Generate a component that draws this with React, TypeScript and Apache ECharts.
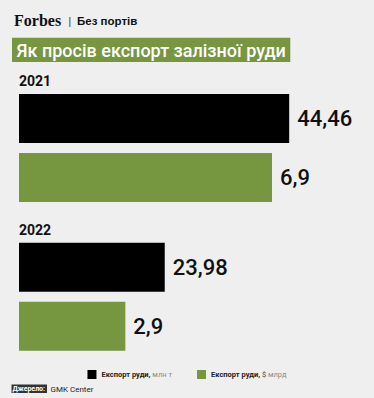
import React, { useEffect, useRef } from 'react';
import * as echarts from 'echarts';

const years = ['2021', '2022'];
const oreVolume = [44.46, 23.98]; // млн т
const oreValue = [6.9, 2.9]; // $ млрд
const seriesNames = ['Експорт руди, млн т', 'Експорт руди, $ млрд'];
const titleText = 'Як просів експорт залізної руди';
const brand = 'Forbes';
const section = 'Без портів';
const sourceLabel = 'Джерело:';
const sourceName = 'GMK Center';

const GREEN = '#76963f';
const BG = '#efefef';
const fmt = (v: number) => String(v).replace('.', ',');

export default function App() {
  const ref = useRef<HTMLDivElement>(null);
  useEffect(() => {
    const chart = echarts.init(ref.current!, null, { renderer: 'svg' });
    const valueLabel = {
      show: true,
      position: 'right',
      distance: 8,
      formatter: (p: any) => fmt(p.value),
      fontSize: 22,
      fontWeight: 500,
      color: '#111',
      fontFamily: 'Roboto',
    };
    chart.setOption({
      animation: false,
      backgroundColor: BG,
      grid: { left: 19, width: 330, top: 73.5, height: 297.8 },
      xAxis: [
        { type: 'value', min: 0, max: 54.3, show: false },
        { type: 'value', min: 0, max: 9, show: false },
      ],
      yAxis: {
        type: 'category',
        data: years,
        inverse: true,
        axisLine: { show: false },
        axisTick: { show: false },
        splitLine: { show: false },
        axisLabel: {
          inside: true,
          margin: 0,
          align: 'left',
          verticalAlign: 'bottom',
          padding: [0, 0, 60, 0],
          fontSize: 14,
          fontWeight: 'bold',
          color: '#111',
          fontFamily: 'Roboto',
        },
      },
      legend: {
        left: 'center',
        top: 365,
        itemWidth: 9,
        itemHeight: 9,
        itemGap: 25,
        icon: 'rect',
        data: seriesNames,
        formatter: (name: string) => {
          const i = name.indexOf(',');
          const unit = name.slice(i + 2);
          if (unit.startsWith('$')) {
            return '{b|' + name.slice(0, i + 1) + ' }{d|$ }{l|' + unit.slice(2) + '}';
          }
          return '{b|' + name.slice(0, i + 1) + ' }{l|' + unit + '}';
        },
        textStyle: {
          fontSize: 7.5,
          rich: {
            b: { fontSize: 7.5, fontWeight: 'bold', color: '#222', fontFamily: 'Roboto' },
            d: { fontSize: 7.5, color: '#444', fontFamily: 'Roboto' },
            l: { fontSize: 7.5, color: '#8a8a8a', fontFamily: 'Roboto' },
          },
        },
      },
      series: [
        {
          type: 'bar',
          name: seriesNames[0],
          xAxisIndex: 0,
          data: oreVolume,
          barWidth: 49,
          barGap: '20.4%',
          itemStyle: { color: '#000' },
          label: valueLabel,
        },
        {
          type: 'bar',
          name: seriesNames[1],
          xAxisIndex: 1,
          data: oreValue,
          barWidth: 49,
          barGap: '20.4%',
          itemStyle: { color: GREEN },
          label: valueLabel,
        },
      ],
      graphic: [
        {
          type: 'text', x: 14, y: 20.5,
          style: { text: brand, fontSize: 16, fontWeight: 'bold', fontFamily: 'Liberation Serif', fill: '#111', verticalAlign: 'middle' },
        },
        {
          type: 'text', x: 68.5, y: 21,
          style: { text: '|', fontSize: 10, fontFamily: 'Liberation Sans', fill: '#333', verticalAlign: 'middle' },
        },
        {
          type: 'text', x: 77, y: 21,
          style: { text: section, fontSize: 11.5, fontWeight: 'bold', fontFamily: 'Liberation Sans', fill: '#111', verticalAlign: 'middle' },
        },
        {
          type: 'rect', shape: { x: 12, y: 37.7, width: 278.3, height: 24.3 }, style: { fill: GREEN },
        },
        {
          type: 'text', x: 16.5, y: 50,
          style: { text: titleText, fontSize: 18, fontWeight: 500, fontFamily: 'Roboto', fill: '#fff', verticalAlign: 'middle' },
        },
        {
          type: 'rect', shape: { x: 11.5, y: 384.5, width: 35.5, height: 8.5 }, style: { fill: '#333' },
        },
        {
          type: 'text', x: 12.5, y: 389,
          style: { text: sourceLabel, fontSize: 7, fontWeight: 'bold', fontFamily: 'Roboto', fill: '#fff', verticalAlign: 'middle' },
        },
        {
          type: 'text', x: 50.5, y: 389,
          style: { text: sourceName, fontSize: 8, fontFamily: 'Roboto', fill: '#222', verticalAlign: 'middle' },
        },
      ],
    });
    return () => chart.dispose();
  }, []);
  return <div ref={ref} style={{ position: 'absolute', left: 0, top: 0, width: 374, height: 398 }} />;
}
